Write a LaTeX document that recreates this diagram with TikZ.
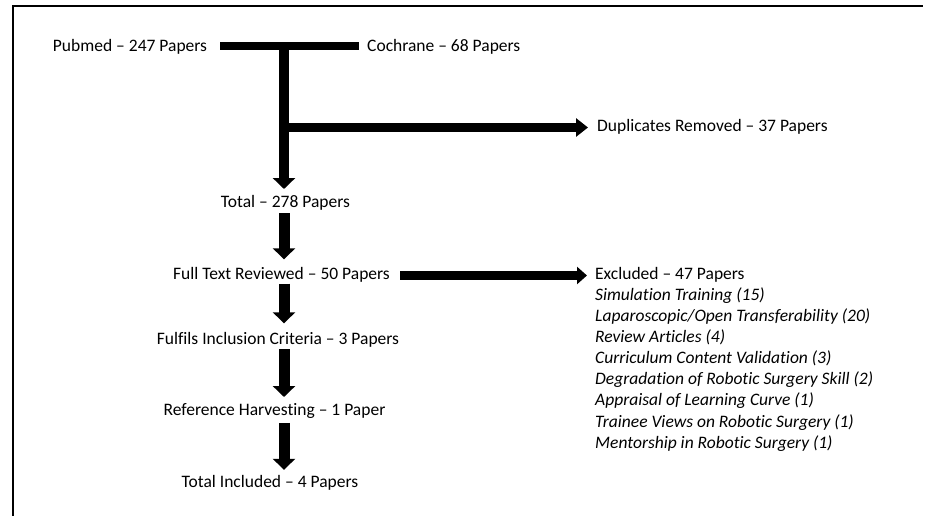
\documentclass[tikz,border=0pt]{standalone}
\usepackage{fontspec}
\setmainfont[Ligatures=NoCommon]{Carlito}
\usetikzlibrary{arrows.meta,calc}
\begin{document}
\begin{tikzpicture}[x=1pt,y=-1pt,
  lbl/.style={inner sep=0pt, text height=10.5pt, text depth=3.5pt, font=\fontsize{17.5}{21}\selectfont},
  itl/.style={lbl, anchor=base west, font=\fontsize{17.5}{21}\selectfont\itshape},
  downarr/.style={line width=11pt, -{Triangle[width=22pt,length=11pt]}},
  sidearr/.style={line width=9pt, -{Triangle[width=18pt,length=12pt]}}
]
\useasboundingbox (0,0) rectangle (934,516);
% frame (top and left edges)
\draw[line width=2pt] (13,516) -- (13,6) -- (923,6);

% texts
\node[lbl, anchor=base] (pubmed) at (130,52) {Pubmed – 247 Papers};
\node[lbl, anchor=base west] (cochrane) at (367,52) {Cochrane – 68 Papers};
\node[lbl, anchor=base west] (dup) at (597,131.7) {Duplicates Removed – 37 Papers};
\node[lbl, anchor=base] (total) at (285.5,207.7) {Total – 278 Papers};
\node[lbl, anchor=base] (full) at (281.5,279) {Full Text Reviewed – 50 Papers};
\node[lbl, anchor=base] (fulfils) at (278,344) {Fulfils Inclusion Criteria – 3 Papers};
\node[lbl, anchor=base] (ref) at (274.5,415.7) {Reference Harvesting – 1 Paper};
\node[lbl, anchor=base] (incl) at (270,487) {Total Included – 4 Papers};
\node[lbl, anchor=base west] (excl) at (595,279.3) {Excluded – 47 Papers};
\node[itl] (ex1) at (595,300.4) {Simulation Training (15)};
\node[itl] (ex2) at (595,321.5) {Laparoscopic/Open Transferability (20)};
\node[itl] (ex3) at (595,342.6) {Review Articles (4)};
\node[itl] (ex4) at (595,363.7) {Curriculum Content Validation (3)};
\node[itl] (ex5) at (595,384.8) {Degradation of Robotic Surgery Skill (2)};
\node[itl] (ex6) at (595,405.9) {Appraisal of Learning Curve (1)};
\node[itl] (ex7) at (595,427.0) {Trainee Views on Robotic Surgery (1)};
\node[itl] (ex8) at (595,448.1) {Mentorship in Robotic Surgery (1)};

% helper coordinates
\coordinate (stemx) at (284,0);
\coordinate (merge) at (284,46);
\coordinate (split) at (284,127.5);

% merge bar
\draw[line width=8.5pt] ([xshift=13pt]pubmed.east |- merge) -- ([xshift=-8pt]cochrane.west |- merge);
% stem down to total
\draw[line width=10pt, -{Triangle[width=22pt,length=11pt]}] (merge) -- ([yshift=8pt]total.north -| stemx);
% branch to duplicates
\draw[sidearr] (split) -- ([xshift=-9pt]dup.west |- split);
% main chain
\draw[downarr] ([yshift=-2pt]total.south -| stemx) -- ([yshift=9pt]full.north -| stemx);
\draw[downarr] ([yshift=-1pt]full.south -| stemx) -- ([yshift=10pt]fulfils.north -| stemx);
\draw[downarr] ([yshift=-1.5pt]fulfils.south -| stemx) -- ([yshift=8pt]ref.north -| stemx);
\draw[downarr] ([yshift=-3.5pt]ref.south -| stemx) -- ([yshift=6.5pt]incl.north -| stemx);
% excluded
\draw[line width=9pt, -{Triangle[width=17pt,length=10pt]}] ([xshift=10pt]full.east) -- ([xshift=-8pt]excl.west |- full.east);
\end{tikzpicture}
\end{document}
